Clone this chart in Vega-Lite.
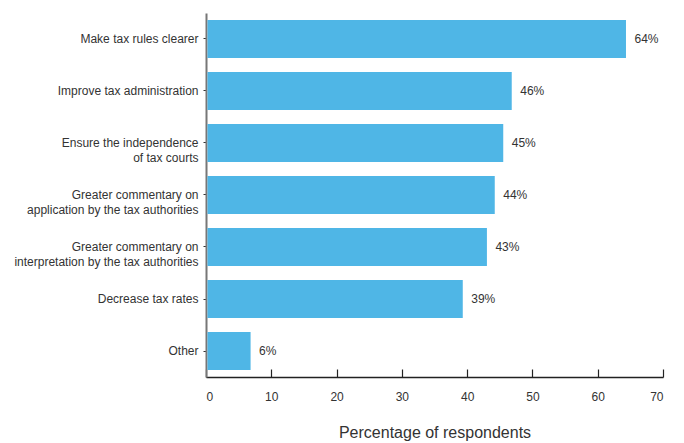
{
  "$schema": "https://vega.github.io/schema/vega-lite/v6.json",
  "width": 457,
  "height": 364,
  "autosize": {"type": "none"},
  "padding": {"left": 206, "top": 13, "right": 21, "bottom": 66},
  "background": "white",
  "config": {"view": {"stroke": null}, "font": "Liberation Sans"},
  "data": {
    "values": [
      {"option": "Make tax rules clearer", "pct": 64.1, "label": "64%"},
      {"option": "Improve tax administration", "pct": 46.6, "label": "46%"},
      {"option": "Ensure the independence|of tax courts", "pct": 45.3, "label": "45%"},
      {"option": "Greater commentary on|application by the tax authorities", "pct": 44.0, "label": "44%"},
      {"option": "Greater commentary on |interpretation by the tax authorities", "pct": 42.8, "label": "43%"},
      {"option": "Decrease tax rates", "pct": 39.1, "label": "39%"},
      {"option": "Other", "pct": 6.6, "label": "6%"}
    ]
  },
  "encoding": {
    "y": {
      "field": "option",
      "type": "nominal",
      "sort": null,
      "scale": {"paddingInner": 0.27, "paddingOuter": 0.135},
      "axis": {
        "title": null,
        "labelExpr": "split(datum.label, '|')",
        "labelFontSize": 12,
        "labelColor": "#333333",
        "labelLineHeight": 15,
        "labelPadding": 5,
        "labelLimit": 400,
        "tickSize": 3,
        "tickColor": "#333333",
        "tickWidth": 1,
        "domainColor": "#777777",
        "domainWidth": 2
      }
    }
  },
  "layer": [
    {
      "mark": {"type": "bar", "color": "#4FB6E6", "xOffset": 1.5},
      "encoding": {
        "x": {
          "field": "pct",
          "type": "quantitative",
          "scale": {"domain": [0, 70], "nice": false},
          "axis": {
            "title": "Percentage of respondents",
            "titleFontSize": 16,
            "titleFontWeight": "normal",
            "titleColor": "#333333",
            "titlePadding": 22,
            "values": [0, 10, 20, 30, 40, 50, 60, 70],
            "grid": false,
            "labelFontSize": 12,
            "labelColor": "#333333",
            "tickSize": -8,
            "tickColor": "#222222",
            "tickWidth": 1.2,
            "labelPadding": 22,
            "domainColor": "#222222",
            "domainWidth": 1.5
          }
        }
      }
    },
    {
      "mark": {"type": "text", "align": "left", "baseline": "middle", "dx": 10, "fontSize": 12, "color": "#333333"},
      "encoding": {
        "x": {"field": "pct", "type": "quantitative"},
        "text": {"field": "label"}
      }
    }
  ]
}
